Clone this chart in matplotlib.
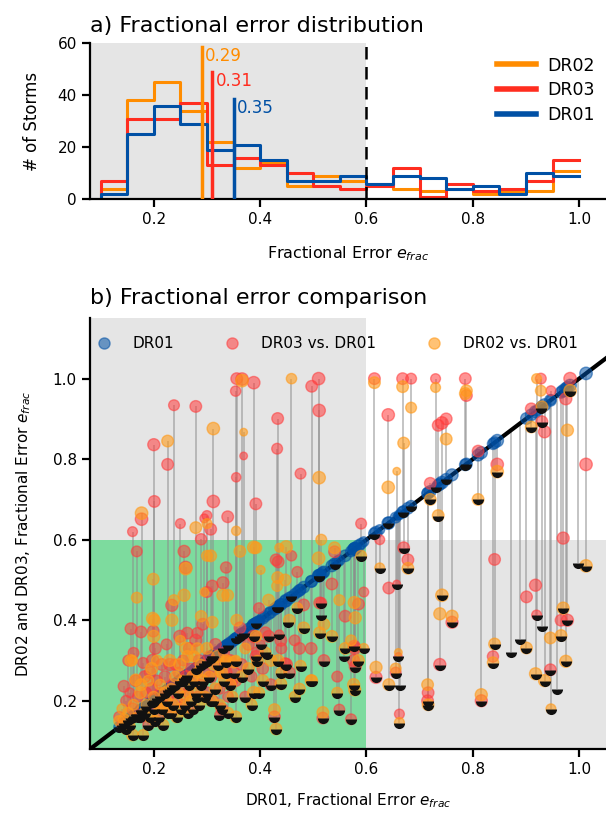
import matplotlib

matplotlib.use("Agg")
import matplotlib.pyplot as plt  # noqa: E402
import numpy as np  # noqa: E402
from matplotlib.lines import Line2D  # noqa: E402

# Histogram bins (fractional error) and storm counts per bin
BIN_EDGES = [0.10, 0.15, 0.20, 0.25, 0.30, 0.35, 0.40, 0.45, 0.50, 0.55,
             0.60, 0.65, 0.70, 0.75, 0.80, 0.85, 0.90, 0.95, 1.00]
COUNTS_DR02 = [4, 38, 45, 34, 22, 12, 14, 5, 9, 7, 6, 4, 3, 4, 2, 3, 3, 11]
COUNTS_DR03 = [7, 31, 31, 37, 13, 16, 13, 10, 5, 4, 5, 12, 1, 6, 3, 4, 7, 15]
COUNTS_DR01 = [2, 25, 36, 29, 19, 21, 15, 7, 7, 9, 6, 9, 8, 4, 5, 2, 10, 9]

# Median fractional error per release
MEDIAN_DR02 = 0.29
MEDIAN_DR03 = 0.31
MEDIAN_DR01 = 0.35

# Per-storm fractional errors: DR01, DR03, DR02 and marker size
DR01 = [
    0.135, 0.140, 0.144, 0.148, 0.152, 0.155, 0.160, 0.162, 0.166, 0.170,
    0.175, 0.180, 0.183, 0.186, 0.190, 0.193, 0.196, 0.200, 0.203, 0.206,
    0.209, 0.212, 0.215, 0.218, 0.221, 0.224, 0.227, 0.230, 0.233, 0.236,
    0.240, 0.243, 0.246, 0.249, 0.252, 0.255, 0.258, 0.261, 0.264, 0.267,
    0.270, 0.273, 0.276, 0.279, 0.282, 0.285, 0.288, 0.292, 0.296, 0.300,
    0.304, 0.308, 0.312, 0.316, 0.320, 0.324, 0.328, 0.332, 0.336, 0.340,
    0.344, 0.348, 0.365, 0.372, 0.378, 0.384, 0.392, 0.398, 0.405, 0.410,
    0.420, 0.440, 0.455, 0.465, 0.520, 0.535, 0.545, 0.560, 0.585,
    0.177, 0.200, 0.201, 0.226, 0.238, 0.279, 0.312, 0.295, 0.339, 0.307,
    0.356, 0.354, 0.355, 0.366, 0.369, 0.388, 0.392, 0.433, 0.432, 0.459,
    0.476, 0.497, 0.510, 0.511, 0.512, 0.160, 0.250, 0.300,
    0.168, 0.199, 0.198, 0.157, 0.176, 0.234, 0.257, 0.260, 0.289, 0.300,
    0.310, 0.330, 0.336, 0.362, 0.263, 0.282, 0.388, 0.401, 0.434, 0.449,
    0.482, 0.515, 0.416, 0.436, 0.577, 0.579, 0.576, 0.578, 0.571, 0.549,
    0.518, 0.430, 0.427, 0.354, 0.323, 0.474, 0.496, 0.447, 0.395, 0.351,
    0.439, 0.452, 0.514, 0.413, 0.557, 0.470, 0.540, 0.590, 0.595,
    0.615, 0.625, 0.641, 0.642, 0.618, 0.657, 0.660, 0.662, 0.655, 0.668,
    0.670, 0.684, 0.678, 0.730, 0.735, 0.742, 0.738, 0.715, 0.716, 0.761,
    0.786, 0.788, 0.816, 0.841, 0.838, 0.846, 0.901, 0.928, 0.930, 0.935,
    0.918, 0.920, 0.946, 0.947, 0.970, 0.966, 0.975, 0.983, 0.978, 1.013,
    0.998, 0.872, 0.889, 0.930, 0.958, 0.664, 0.720, 0.750, 0.810, 0.910,
]
DR03 = [
    0.16, 0.14, 0.236, 0.20, 0.30, 0.22, 0.18, 0.319, 0.25, 0.21,
    0.16, 0.294, 0.26, 0.22, 0.14, 0.27, 0.23, 0.18, 0.33, 0.25,
    0.16, 0.22, 0.29, 0.19, 0.26, 0.34, 0.21, 0.29, 0.17, 0.24,
    0.29, 0.20, 0.27, 0.36, 0.23, 0.30, 0.19, 0.26, 0.22, 0.33,
    0.28, 0.18, 0.25, 0.35, 0.21, 0.30, 0.24, 0.39, 0.27, 0.22,
    0.31, 0.26, 0.20, 0.34, 0.29, 0.23, 0.18, 0.32, 0.27, 0.21,
    0.30, 0.25, 0.29, 0.21, 0.34, 0.26, 0.31, 0.43, 0.28, 0.37,
    0.24, 0.33, 0.27, 0.35, 0.30, 0.49, 0.26, 0.41, 0.44,
    0.651, 0.836, 0.695, 0.787, 0.934, 0.931, 0.695, 0.653, 0.657, 0.626,
    1.000, 0.969, 0.755, 0.999, 0.808, 0.990, 0.689, 0.901, 0.826, 0.560,
    0.764, 0.981, 1.000, 0.921, 0.443, 0.620, 0.640, 0.660,
    0.571, 0.373, 0.300, 0.379, 0.371, 0.437, 0.571, 0.531, 0.601, 0.470,
    0.485, 0.493, 0.531, 0.381, 0.368, 0.368, 0.360, 0.340, 0.545, 0.290,
    0.438, 0.443, 0.360, 0.365, 0.335, 0.285, 0.300, 0.330, 0.154, 0.178,
    0.157, 0.550, 0.160, 0.250, 0.165, 0.330, 0.330, 0.292, 0.320, 0.270,
    0.350, 0.395, 0.414, 0.315, 0.312, 0.520, 0.570, 0.640, 0.470,
    1.000, 0.600, 0.910, 0.480, 0.258, 0.490, 0.310, 0.167, 0.270, 1.000,
    0.580, 1.000, 0.550, 1.000, 0.884, 0.890, 0.290, 0.200, 0.220, 0.395,
    1.000, 0.958, 0.200, 0.551, 0.310, 0.787, 0.458, 1.000, 0.893, 0.868,
    0.487, 0.413, 0.277, 0.970, 0.604, 0.400, 0.950, 1.000, 0.400, 0.787,
    0.543, 0.322, 0.354, 0.385, 0.230, 0.238, 0.740, 0.900, 0.820, 0.925,
]
DR02 = [
    0.15, 0.18, 0.153, 0.13, 0.17, 0.14, 0.115, 0.19, 0.252, 0.16,
    0.22, 0.115, 0.17, 0.19, 0.25, 0.16, 0.28, 0.21, 0.15, 0.30,
    0.19, 0.24, 0.18, 0.14, 0.22, 0.20, 0.17, 0.30, 0.23, 0.19,
    0.26, 0.16, 0.22, 0.29, 0.18, 0.25, 0.21, 0.33, 0.17, 0.24,
    0.20, 0.26, 0.31, 0.22, 0.27, 0.19, 0.29, 0.25, 0.21, 0.33,
    0.26, 0.20, 0.29, 0.23, 0.31, 0.19, 0.27, 0.25, 0.30, 0.17,
    0.24, 0.21, 0.26, 0.33, 0.28, 0.19, 0.36, 0.22, 0.25, 0.32,
    0.30, 0.27, 0.40, 0.21, 0.39, 0.36, 0.22, 0.33, 0.30,
    0.666, 0.360, 0.400, 0.845, 0.450, 0.630, 0.876, 0.470, 0.462, 0.560,
    0.400, 0.300, 0.622, 0.995, 0.867, 0.220, 0.580, 0.506, 0.485, 1.000,
    0.287, 0.250, 0.554, 0.754, 0.369, 0.300, 0.350, 0.640,
    0.456, 0.502, 0.404, 0.300, 0.240, 0.400, 0.462, 0.528, 0.410, 0.560,
    0.395, 0.462, 0.296, 0.571, 0.310, 0.330, 0.581, 0.525, 0.300, 0.582,
    0.381, 0.600, 0.450, 0.580, 0.444, 0.406, 0.240, 0.227, 0.350, 0.450,
    0.171, 0.130, 0.178, 0.160, 0.270, 0.229, 0.250, 0.500, 0.298, 0.296,
    0.242, 0.420, 0.460, 0.380, 0.350, 0.430, 0.580, 0.560, 0.330,
    0.990, 0.530, 0.730, 0.240, 0.283, 0.770, 0.320, 0.146, 0.280, 0.980,
    0.840, 0.928, 0.529, 0.978, 0.660, 0.462, 0.416, 0.240, 0.190, 0.410,
    0.963, 0.970, 0.215, 0.341, 0.295, 0.769, 0.331, 0.970, 0.930, 0.250,
    0.267, 1.000, 0.356, 0.180, 0.430, 0.362, 0.298, 0.970, 0.872, 0.535,
    0.560, 0.400, 0.420, 0.450, 0.300, 0.300, 0.700, 0.850, 0.700, 0.880,
]
SIZE = [
    60, 50, 70, 60, 60, 50, 70, 60, 70, 60,
    70, 60, 70, 60, 60, 70, 75, 60, 70, 60,
    70, 60, 70, 60, 70, 60, 70, 75, 60, 70,
    60, 70, 60, 75, 70, 60, 70, 75, 60, 70,
    60, 70, 60, 75, 60, 70, 60, 70, 60, 70,
    60, 70, 60, 70, 75, 60, 70, 60, 70, 60,
    70, 60, 70, 60, 70, 60, 70, 60, 70, 60,
    70, 60, 70, 60, 70, 70, 60, 70, 70,
    80, 75, 70, 70, 60, 70, 80, 40, 70, 70,
    70, 55, 45, 80, 30, 80, 70, 70, 60, 55,
    60, 70, 80, 80, 70, 50, 50, 50,
    60, 70, 80, 70, 70, 75, 75, 80, 65, 60,
    70, 75, 65, 70, 70, 65, 80, 40, 70, 80,
    70, 60, 70, 40, 75, 75, 75, 75, 60, 60,
    70, 70, 70, 70, 40, 70, 70, 70, 70, 70,
    70, 0, 0, 0, 0, 60, 70, 60, 50,
    70, 50, 80, 70, 75, 30, 30, 50, 60, 70,
    70, 60, 70, 50, 70, 80, 75, 70, 70, 75,
    70, 70, 75, 70, 65, 80, 70, 60, 70, 75,
    75, 50, 70, 50, 75, 70, 75, 80, 75, 80,
    0, 0, 0, 0, 0, 0, 70, 70, 70, 70,
]

THRESH = 0.6
XLIM = (0.08, 1.05)
YLIM_B = (0.08, 1.15)

C_DR02 = "#ff8c00"
C_DR03 = "#ff2d1f"
C_DR01 = "#0050a5"
DOT_DR03 = "#ff3b3b"
DOT_DR02 = "#ff9a1a"
GRAY = "#e5e5e5"
GREEN = "#7ddb9e"

plt.rcParams.update({
    "font.family": "DejaVu Sans",
    "font.size": 11,
    "axes.linewidth": 1.6,
    "xtick.major.width": 1.6,
    "ytick.major.width": 1.6,
    "xtick.major.size": 6,
    "ytick.major.size": 6,
})

fig = plt.figure(figsize=(6.06, 8.16), dpi=100)
ax_a = fig.add_axes([0.1485, 0.756, 0.851, 0.191])
ax_b = fig.add_axes([0.1485, 0.082, 0.851, 0.528])

# ---- a) histogram ---------------------------------------------------------
edges = np.array(BIN_EDGES)
ax_a.axvspan(XLIM[0], THRESH, color=GRAY, lw=0, zorder=0)
for counts, color, name in ((COUNTS_DR02, C_DR02, "DR02"),
                            (COUNTS_DR03, C_DR03, "DR03"),
                            (COUNTS_DR01, C_DR01, "DR01")):
    xs = np.repeat(edges, 2)[:-1]
    ys = np.concatenate([[0], np.repeat(counts, 2)])
    ax_a.plot(xs, ys, color=color, lw=2.2, label=name, zorder=2)

for med, top, color in ((MEDIAN_DR02, 58.5, C_DR02),
                        (MEDIAN_DR03, 49, C_DR03),
                        (MEDIAN_DR01, 38.5, C_DR01)):
    ax_a.plot([med, med], [0, top], color=color, lw=2.5, zorder=3)
    ax_a.text(med + 0.007, top - 3.5, f"{med:.2f}", color=color,
              fontsize=12, va="center", ha="left")

ax_a.axvline(THRESH, color="k", lw=1.8, ls=(0, (5, 3)), zorder=3)
ax_a.set_xlim(*XLIM)
ax_a.set_ylim(0, 60)
ax_a.set_yticks([0, 20, 40, 60])
ax_a.set_xticks([0.2, 0.4, 0.6, 0.8, 1.0])
ax_a.set_ylabel("# of Storms", fontsize=12, labelpad=12)
ax_a.set_xlabel(r"Fractional Error $e_{frac}$", fontsize=11.5, labelpad=12)
ax_a.set_title("a) Fractional error distribution", loc="left",
               fontsize=16, pad=8)
leg_a = ax_a.legend(loc="upper right", frameon=False, fontsize=12.5,
                    handlelength=2.2, handletextpad=0.7, labelspacing=0.4,
                    bbox_to_anchor=(1.01, 1.015))
for line in leg_a.get_lines():
    line.set_linewidth(4)
for side in ("top", "right"):
    ax_a.spines[side].set_visible(False)

# ---- b) storm-by-storm comparison ----------------------------------------
x = np.array(DR01)
y3 = np.array(DR03)
y2 = np.array(DR02)
s = np.array(SIZE, dtype=float)
lo = np.minimum(np.minimum(x, y3), y2)
hi = np.maximum(np.maximum(x, y3), y2)

ax_b.axvspan(XLIM[0], THRESH, color=GRAY, lw=0, zorder=0)
ax_b.fill_between([XLIM[0], THRESH], YLIM_B[0], THRESH, color=GREEN,
                  lw=0, zorder=0)
ax_b.fill_between([THRESH, XLIM[1]], YLIM_B[0], THRESH, color=GRAY,
                  lw=0, zorder=0)

ax_b.vlines(x, lo, hi, color="0.55", alpha=0.55, lw=1.3, zorder=1)
ax_b.plot(XLIM, XLIM, color="k", lw=3, zorder=2)
ax_b.scatter(x, x, s=s, color=C_DR01, alpha=0.55, lw=1, zorder=3)
ax_b.scatter(x, y3, s=s, color=DOT_DR03, alpha=0.55, lw=1, zorder=3)
ax_b.scatter(x, y2, s=s, color=DOT_DR02, alpha=0.6, lw=1, zorder=3)
ax_b.plot(x, lo, ls="none", marker="o", ms=8, fillstyle="bottom",
          markerfacecolor="#111111", markerfacecoloralt="none",
          markeredgewidth=0, zorder=4)

ax_b.set_xlim(*XLIM)
ax_b.set_ylim(*YLIM_B)
ax_b.set_xticks([0.2, 0.4, 0.6, 0.8, 1.0])
ax_b.set_yticks([0.2, 0.4, 0.6, 0.8, 1.0])
ax_b.set_xlabel(r"DR01, Fractional Error $e_{frac}$", labelpad=10)
ax_b.set_ylabel(r"DR02 and DR03, Fractional Error $e_{frac}$", labelpad=14)
ax_b.set_title("b) Fractional error comparison", loc="left",
               fontsize=16, pad=10)
for side in ("top", "right"):
    ax_b.spines[side].set_visible(False)

handles = [
    Line2D([], [], ls="none", marker="o", ms=8, color=C_DR01, alpha=0.55),
    Line2D([], [], ls="none", marker="o", ms=8, color=DOT_DR03, alpha=0.55),
    Line2D([], [], ls="none", marker="o", ms=8, color=DOT_DR02, alpha=0.6),
]
ax_b.legend(handles, ["DR01", "DR03 vs. DR01", "DR02 vs. DR01"],
            loc="upper left", ncol=3, frameon=False, fontsize=11,
            handlelength=1.0, handletextpad=1.4, columnspacing=3.3,
            bbox_to_anchor=(-0.015, 0.99))

fig.savefig("out.png", dpi=100)
